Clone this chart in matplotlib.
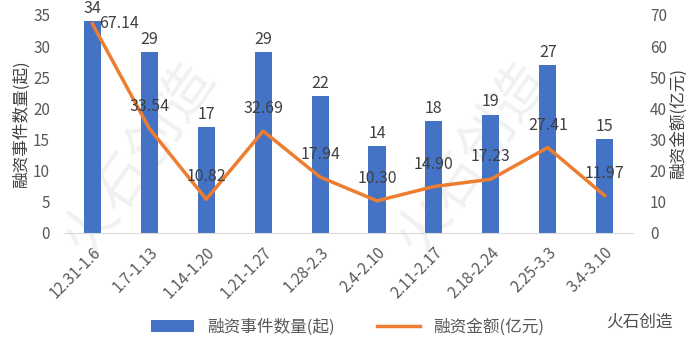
import matplotlib.pyplot as plt
import numpy as np

plt.rcParams['font.family'] = ['Noto Sans CJK SC', 'DejaVu Sans']

weeks = ['12.31-1.6', '1.7-1.13', '1.14-1.20', '1.21-1.27', '1.28-2.3',
         '2.4-2.10', '2.11-2.17', '2.18-2.24', '2.25-3.3', '3.4-3.10']
deal_count = [34, 29, 17, 29, 22, 14, 18, 19, 27, 15]
amount = [67.14, 33.54, 10.82, 32.69, 17.94, 10.30, 14.90, 17.23, 27.41, 11.97]

bar_color = '#4472C4'
line_color = '#ED7D31'
text_color = '#595959'

fig = plt.figure(figsize=(6.95, 3.54), dpi=100)
ax = fig.add_axes([0.092, 0.342, 0.819, 0.616])
ax2 = ax.twinx()

# faint watermark behind the bars
for wx in (0.2, 0.68):
    ax.text(wx, 0.55, '火石创造', fontsize=40, color='#F1F1F1', rotation=55,
            ha='center', va='center', zorder=0, transform=fig.transFigure)

x = np.arange(len(weeks))
ax.bar(x, deal_count, width=0.3, color=bar_color, zorder=2, label='融资事件数量(起)')
ax2.plot(x, amount, color=line_color, lw=2.5, zorder=3, label='融资金额(亿元)')

for i, v in enumerate(deal_count):
    ax.annotate(str(v), (x[i], v), xytext=(0, 3), textcoords='offset points',
                ha='center', va='bottom', fontsize=11.5, color='#404040')
for i, v in enumerate(amount):
    if i == 0:
        ax2.annotate(f'{v:.2f}', (x[i], v), xytext=(5, 0), textcoords='offset points',
                     ha='left', va='center', fontsize=11.5, color='#404040')
    else:
        ax2.annotate(f'{v:.2f}', (x[i], v), xytext=(0, 10), textcoords='offset points',
                     ha='center', va='bottom', fontsize=11.5, color='#404040')

ax.set_xlim(-0.5, len(weeks) - 0.5)
ax.set_ylim(0, 35)
ax2.set_ylim(0, 70)
ax.set_yticks(range(0, 36, 5))
ax2.set_yticks(range(0, 71, 10))
ax.set_xticks(x)
ax.set_xticklabels(weeks, rotation=45, ha='right', rotation_mode='anchor')

for a in (ax, ax2):
    for s in a.spines.values():
        s.set_visible(False)
    a.tick_params(length=0, labelsize=11, labelcolor=text_color)
ax.spines['bottom'].set_visible(True)
ax.spines['bottom'].set_color('#D9D9D9')
ax.tick_params(axis='x', pad=8)
ax.tick_params(axis='y', pad=10)
ax2.tick_params(axis='y', pad=12)

ax.set_ylabel('融资事件数量(起)', fontsize=12, color='#404040', labelpad=2)
ax2.set_ylabel('融资金额(亿元)', fontsize=12, color='#404040', rotation=90, labelpad=2)

fig.text(0.872, 0.09, '火石创造', fontsize=12, color='#505050', ha='left', va='center')

h1, l1 = ax.get_legend_handles_labels()
h2, l2 = ax2.get_legend_handles_labels()
fig.legend(h1 + h2, l1 + l2, loc='center', bbox_to_anchor=(0.5, 0.075), ncol=2,
           frameon=False, fontsize=12, labelcolor=text_color,
           handlelength=2.6, columnspacing=2.5)

fig.savefig('out.png', dpi=100)
